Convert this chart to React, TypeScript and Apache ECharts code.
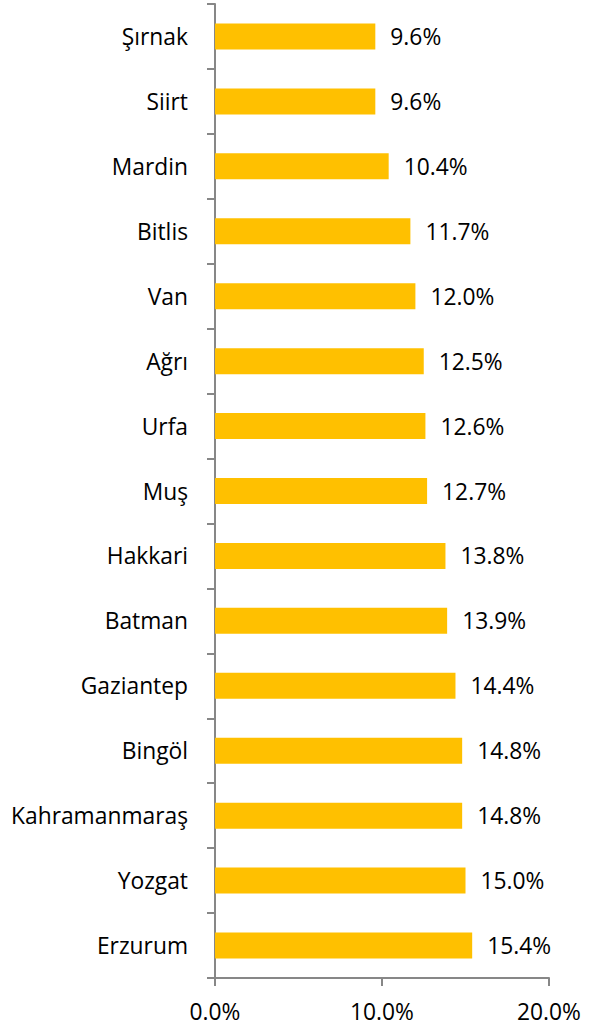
import React, { useEffect, useRef } from "react";
import * as echarts from "echarts";

const categories = [
  "Şırnak", "Siirt", "Mardin", "Bitlis", "Van", "Ağrı", "Urfa", "Muş",
  "Hakkari", "Batman", "Gaziantep", "Bingöl", "Kahramanmaraş", "Yozgat", "Erzurum",
];
const values = [9.6, 9.6, 10.4, 11.7, 12.0, 12.5, 12.6, 12.7, 13.8, 13.9, 14.4, 14.8, 14.8, 15.0, 15.4];
const xMin = 0;
const xMax = 20;
const xInterval = 10;

const FONT = "'Open Sans', Lato, sans-serif";
const FONT_SIZE = 22.8;
const AXIS_COLOR = "#878787";

export default function App() {
  const ref = useRef<HTMLDivElement>(null);
  useEffect(() => {
    document.body.style.margin = "0";
    const chart = echarts.init(ref.current!, null, { renderer: "svg" });
    chart.setOption({
      animation: false,
      grid: { left: 215, right: 43, top: 4, bottom: 50, containLabel: false },
      xAxis: {
        type: "value",
        min: xMin,
        max: xMax,
        interval: xInterval,
        splitLine: { show: false },
        axisLine: { show: true, lineStyle: { color: AXIS_COLOR, width: 2 } },
        axisTick: { show: true, length: 8, lineStyle: { color: AXIS_COLOR, width: 2 } },
        axisLabel: {
          margin: 22,
          color: "#000",
          fontFamily: FONT,
          fontSize: FONT_SIZE,
          formatter: (v: number) => v.toFixed(1) + "%",
        },
      },
      yAxis: {
        type: "category",
        data: categories,
        inverse: true,
        axisLine: { show: true, lineStyle: { color: AXIS_COLOR, width: 2 } },
        axisTick: { show: true, length: 8, lineStyle: { color: AXIS_COLOR, width: 2 } },
        axisLabel: { margin: 27, color: "#000", fontFamily: FONT, fontSize: FONT_SIZE },
      },
      series: [
        {
          type: "bar",
          data: values,
          barWidth: 26,
          itemStyle: { color: "#FFC000" },
          label: {
            show: true,
            position: "right",
            distance: 15,
            color: "#000",
            fontFamily: FONT,
            fontSize: FONT_SIZE,
            formatter: (p: any) => Number(p.value).toFixed(1) + "%",
          },
        },
      ],
    });
    return () => chart.dispose();
  }, []);
  return <div ref={ref} style={{ width: 592, height: 1028 }} />;
}
